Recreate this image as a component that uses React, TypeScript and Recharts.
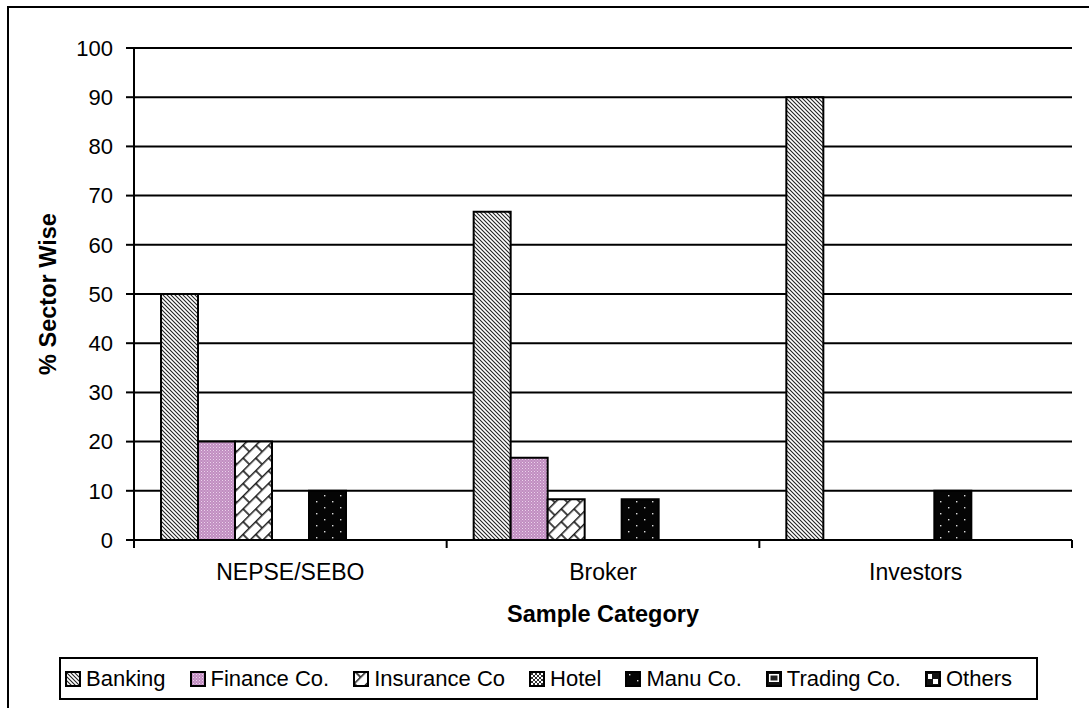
import { BarChart, Bar, XAxis, YAxis, CartesianGrid } from 'recharts'

const categories = ['NEPSE/SEBO', 'Broker', 'Investors']
const sectors = ['Banking', 'Finance Co.', 'Insurance Co', 'Hotel', 'Manu Co.', 'Trading Co.', 'Others']

const banking = [50, 66.7, 90]
const finance = [20, 16.7, 0]
const insurance = [20, 8.3, 0]
const hotel = [0, 0, 0]
const manu = [10, 8.3, 10]
const trading = [0, 0, 0]
const others = [0, 0, 0]

const yTicks = [0, 10, 20, 30, 40, 50, 60, 70, 80, 90, 100]

const series = [banking, finance, insurance, hotel, manu, trading, others]
const fills = [
  'url(#pat-banking)',
  'url(#pat-finance)',
  'url(#pat-insurance)',
  'url(#pat-hotel)',
  'url(#pat-manu)',
  'url(#pat-trading)',
  'url(#pat-others)'
]

const data = categories.map((cat, i) => {
  const row: Record<string, string | number> = { category: cat }
  sectors.forEach((s, j) => {
    row[s] = series[j][i]
  })
  return row
})

const FONT = "Arial, 'Liberation Sans', sans-serif"
const X_TICK_SIZE = 8
const X_TICK_MARGIN = 16

// category label plus the tick marks that sit between categories
function CategoryTick(props: any) {
  const { x, y, payload, index, width, visibleTicksCount } = props
  const count = visibleTicksCount || categories.length
  const band = (width || 938) / count
  const axisY = y - X_TICK_SIZE - X_TICK_MARGIN
  const left = x - band / 2
  const right = x + band / 2
  return (
    <g>
      <line x1={left} x2={left} y1={axisY} y2={axisY + X_TICK_SIZE} stroke="#000" strokeWidth={2} />
      {index === count - 1 && (
        <line x1={right} x2={right} y1={axisY} y2={axisY + X_TICK_SIZE} stroke="#000" strokeWidth={2} />
      )}
      <text x={x} y={y} dy="0.71em" textAnchor="middle" fill="#000" fontSize={23}>
        {payload.value}
      </text>
    </g>
  )
}

// hatch fills shared by the bars and the legend swatches
function Patterns() {
  return (
    <svg width={0} height={0} style={{ position: 'absolute' }}>
      <defs>
        <pattern id="pat-banking" width={4} height={4} patternUnits="userSpaceOnUse">
          <rect width={4} height={4} fill="#fff" />
          <path d="M-1,-1 L5,5 M-1,3 L1,5 M3,-1 L5,1" stroke="#222" strokeWidth={1.1} />
        </pattern>
        <pattern id="pat-finance" width={3} height={3} patternUnits="userSpaceOnUse">
          <rect width={3} height={3} fill="#c08ec0" />
          <rect x={0} y={0} width={1} height={1} fill="#ecd2ec" />
          <rect x={1.5} y={1.5} width={1} height={1} fill="#e0bce0" />
        </pattern>
        <pattern
          id="pat-insurance"
          width={18}
          height={18}
          patternUnits="userSpaceOnUse"
          patternTransform="rotate(-45)"
        >
          <rect width={18} height={18} fill="#fff" />
          <path d="M0,0.75 L18,0.75 M0,9.75 L18,9.75 M1,0.75 L1,9.75 M10,9.75 L10,18" stroke="#1a1a1a" strokeWidth={1.6} />
        </pattern>
        <pattern id="pat-hotel" width={4} height={4} patternUnits="userSpaceOnUse">
          <rect width={4} height={4} fill="#fff" />
          <rect width={2} height={2} fill="#333" />
          <rect x={2} y={2} width={2} height={2} fill="#333" />
        </pattern>
        <pattern id="pat-manu" width={16} height={12} patternUnits="userSpaceOnUse">
          <rect width={16} height={12} fill="#050505" />
          <rect x={4} y={3} width={1.4} height={1.4} fill="#ddd" />
          <rect x={12} y={9} width={1.4} height={1.4} fill="#ddd" />
        </pattern>
        <pattern id="pat-trading" width={16} height={16} patternUnits="userSpaceOnUse">
          <rect width={16} height={16} fill="#111" />
          <rect x={3} y={3} width={10} height={8} fill="#fff" />
          <rect x={4.5} y={4.5} width={7} height={5} fill="#222" />
        </pattern>
        <pattern id="pat-others" width={16} height={16} patternUnits="userSpaceOnUse">
          <rect width={16} height={16} fill="#111" />
          <rect x={3} y={3} width={4} height={5} fill="#fff" />
          <rect x={8} y={8} width={5} height={5} fill="#fff" />
        </pattern>
      </defs>
    </svg>
  )
}

function LegendBox() {
  return (
    <div
      style={{
        position: 'absolute',
        left: 59,
        top: 657,
        width: 979,
        height: 43,
        border: '2px solid #000',
        display: 'flex',
        alignItems: 'center',
        justifyContent: 'space-between',
        paddingLeft: 4,
        paddingRight: 24,
        boxSizing: 'border-box',
        fontFamily: FONT,
        fontSize: 22,
        color: '#000'
      }}
    >
      {sectors.map((s, i) => (
        <div key={s} style={{ display: 'flex', alignItems: 'center' }}>
          <svg width={16} height={16} style={{ marginRight: 5 }}>
            <rect x={1} y={1} width={14} height={14} fill={fills[i]} stroke="#000" strokeWidth={2} />
          </svg>
          <span>{s}</span>
        </div>
      ))}
    </div>
  )
}

export default function App() {
  return (
    <div style={{ position: 'absolute', left: 0, top: 0, width: 1089, height: 708, overflow: 'hidden', background: '#fff' }}>
      <Patterns />
      <div
        style={{
          position: 'absolute',
          left: 7,
          top: 6,
          width: 1100,
          height: 720,
          border: '2px solid #000'
        }}
      />
      <div style={{ position: 'absolute', left: 0, top: 0 }}>
        <BarChart
          width={1089}
          height={708}
          data={data}
          margin={{ top: 48, right: 17, bottom: 86, left: 0 }}
          barCategoryGap={27}
          barGap={0}
          style={{ fontFamily: FONT }}
        >
          <CartesianGrid vertical={false} stroke="#000" strokeWidth={2} />
          <XAxis
            dataKey="category"
            height={82}
            axisLine={{ stroke: '#000', strokeWidth: 2 }}
            tickLine={false}
            tickSize={X_TICK_SIZE}
            tickMargin={X_TICK_MARGIN}
            tick={<CategoryTick />}
            label={{
              value: 'Sample Category',
              position: 'insideBottom',
              offset: 0,
              fill: '#000',
              fontSize: 23.5,
              fontWeight: 'bold'
            }}
          />
          <YAxis
            width={134}
            domain={[0, 100]}
            ticks={yTicks}
            interval={0}
            axisLine={{ stroke: '#000', strokeWidth: 2 }}
            tickLine={{ stroke: '#000', strokeWidth: 2 }}
            tickSize={8}
            tickMargin={13}
            tick={{ fill: '#000', fontSize: 22 }}
            label={{
              value: '% Sector Wise',
              angle: -90,
              position: 'center',
              dx: -19,
              fill: '#000',
              fontSize: 23.5,
              fontWeight: 'bold'
            }}
          />
          {sectors.map((s, i) => (
            <Bar
              key={s}
              dataKey={s}
              fill={fills[i]}
              stroke="#000"
              strokeWidth={2}
              isAnimationActive={false}
            />
          ))}
        </BarChart>
      </div>
      <LegendBox />
    </div>
  )
}
